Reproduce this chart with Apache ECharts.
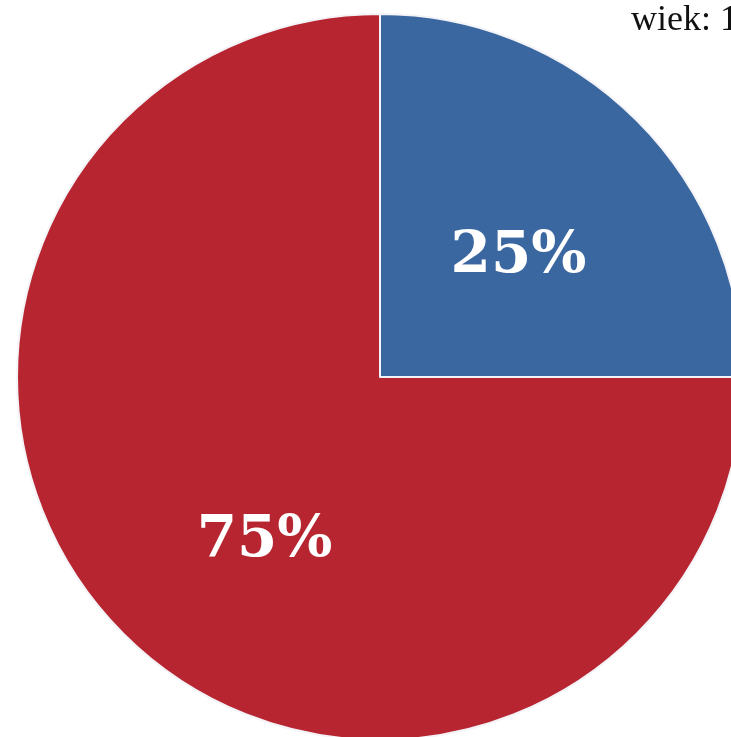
<!DOCTYPE html>
<html><head><meta charset="utf-8">
<script src="https://cdn.jsdelivr.net/npm/echarts@6/dist/echarts.min.js"></script>
<style>html,body{margin:0;padding:0;background:#fff;}#c{width:731px;height:737px;}</style>
</head><body><div id="c"></div>
<script>
const categories = ['A', 'B'];
const values = [25, 75];
const colors = ['#3A67A0', '#B72630'];
const titleText = 'wiek: 18-24';

const chart = echarts.init(document.getElementById('c'));
chart.setOption({
  animation: false,
  title: {
    text: titleText, left: 626, top: -2,
    textStyle: { fontFamily: 'Liberation Serif', fontSize: 36, fontWeight: 'normal', color: '#111' }
  },
  series: [{
    type: 'pie',
    center: [380, 377],
    radius: [0, 363],
    startAngle: 90,
    clockwise: true,
    itemStyle: { borderColor: '#f4f4f8', borderWidth: 2 },
    label: {
      position: 'inside',
      formatter: '{d}%',
      color: '#fff',
      fontFamily: 'DejaVu Serif',
      fontWeight: 'bold',
      fontSize: 58
    },
    labelLine: { show: false },
    data: categories.map((c, i) => ({
      name: c, value: values[i], itemStyle: { color: colors[i] },
      label: i === 1 ? { offset: [15, 33] } : { offset: [8, 10] }
    }))
  }]
});
</script></body></html>
